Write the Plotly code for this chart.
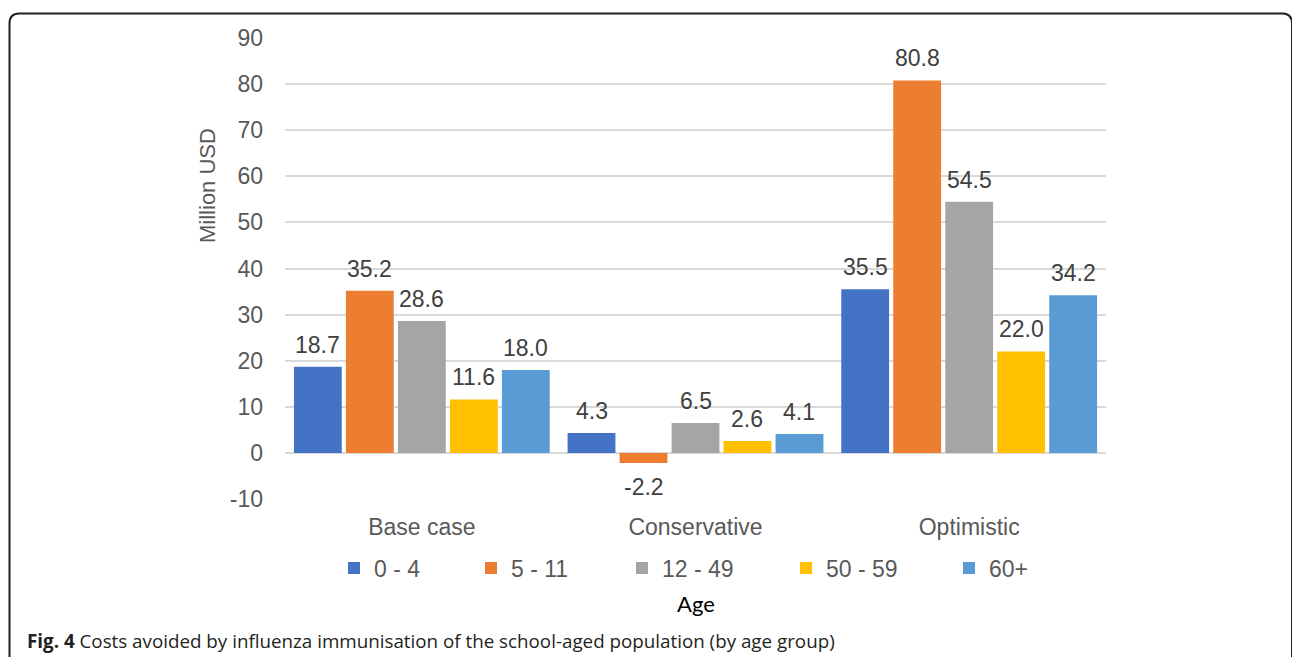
import plotly.graph_objects as go

# Scenario categories and age groups
scenarios = ["Base case", "Conservative", "Optimistic"]
age_groups = ["0 - 4", "5 - 11", "12 - 49", "50 - 59", "60+"]

# Costs avoided (million USD) per age group, one list per group across scenarios
costs_0_4 = [18.7, 4.3, 35.5]
costs_5_11 = [35.2, -2.2, 80.8]
costs_12_49 = [28.6, 6.5, 54.5]
costs_50_59 = [11.6, 2.6, 22.0]
costs_60_plus = [18.0, 4.1, 34.2]

y_ticks = [-10, 0, 10, 20, 30, 40, 50, 60, 70, 80, 90]
y_tick_text = ["-10", "0", "10", "20", "30", "40", "50", "60", "70", "80", "90"]

series = [costs_0_4, costs_5_11, costs_12_49, costs_50_59, costs_60_plus]
colors = ["#4472C4", "#ED7D31", "#A5A5A5", "#FFC000", "#5B9BD5"]

W, H = 1292, 657
ML, MR, MT, MB = 285, 186, 38, 158
PW, PH = W - ML - MR, H - MT - MB
BARGAP, GROUPGAP = 0.05, 0.08


def px_x(p):
    return (p - ML) / PW


def px_y(p):
    return (H - MB - p) / PH


SANS = "Arial, Liberation Sans, sans-serif"

# left edge of each legend swatch
legend_left = [352, 489, 640, 804, 967]

fig = go.Figure()
for i, (name, vals, col) in enumerate(zip(age_groups, series, colors)):
    fig.add_trace(go.Bar(
        name=name, x=scenarios, y=vals,
        marker=dict(color=col, line=dict(width=0)),
        legend="legend" if i == 0 else f"legend{i + 1}",
    ))

# Value labels above (or below) each bar
slot = PW / len(scenarios) * (1 - BARGAP) / len(series)
for i, vals in enumerate(series):
    for cat, v in zip(scenarios, vals):
        fig.add_annotation(
            x=cat, y=v, xref="x", yref="y", text=f"{v:.1f}", showarrow=False,
            xshift=(i - (len(series) - 1) / 2) * slot,
            yshift=22 if v >= 0 else -24,
            xanchor="center", yanchor="middle",
            font=dict(family=SANS, size=23, color="#404040"),
        )

legend_common = dict(
    orientation="h", xanchor="left", yanchor="middle", y=px_y(568),
    font=dict(family=SANS, size=23, color="#595959"),
    bgcolor="rgba(0,0,0,0)",
)
legends = {}
for i, left in enumerate(legend_left):
    key = "legend" if i == 0 else f"legend{i + 1}"
    legends[key] = dict(legend_common, x=px_x(left - 18))

fig.update_layout(
    width=W, height=H,
    margin=dict(l=ML, r=MR, t=MT, b=MB, autoexpand=False),
    paper_bgcolor="white", plot_bgcolor="white",
    barmode="group", bargap=BARGAP, bargroupgap=GROUPGAP,
    font=dict(family=SANS, color="#595959"),
    showlegend=True,
    xaxis=dict(
        showgrid=False, showline=False, ticks="",
        tickfont=dict(family=SANS, size=23, color="#595959"),
        ticklabelstandoff=12,
    ),
    yaxis=dict(
        range=[-10, 90], tickvals=y_ticks, ticktext=y_tick_text,
        showgrid=True, gridcolor="#D9D9D9", gridwidth=1.5,
        zeroline=True, zerolinecolor="#D9D9D9", zerolinewidth=1.5,
        showline=False, ticks="",
        tickfont=dict(family=SANS, size=23, color="#595959"),
        ticklabelstandoff=21,
    ),
    **legends,
)

# Axis titles
fig.add_annotation(
    text="Million USD", xref="paper", yref="paper",
    x=px_x(208), y=px_y(186), textangle=-90, showarrow=False,
    font=dict(family=SANS, size=22, color="#595959"),
    xanchor="center", yanchor="middle",
)
fig.add_annotation(
    text="Age", xref="paper", yref="paper",
    x=px_x(696), y=px_y(603), showarrow=False,
    font=dict(family="Lato, Carlito, sans-serif", size=22, color="#000000"),
    xanchor="center", yanchor="middle",
)

# Figure caption
fig.add_annotation(
    text="<b>Fig. 4</b> Costs avoided by influenza immunisation of the school-aged population (by age group)",
    xref="paper", yref="paper",
    x=px_x(25), y=px_y(641), showarrow=False,
    font=dict(family="Open Sans, Noto Sans, sans-serif", size=18.8, color="#231F20"),
    xanchor="left", yanchor="middle",
)

# Rounded frame around the figure panel
r = 10
path = (
    f"M {px_x(9.5)},{px_y(700)} L {px_x(9.5)},{px_y(13.5 + r)} "
    f"Q {px_x(9.5)},{px_y(13.5)} {px_x(9.5 + r)},{px_y(13.5)} "
    f"L {px_x(1282)},{px_y(13.5)} "
    f"Q {px_x(1292)},{px_y(13.5)} {px_x(1292)},{px_y(13.5 + r)} "
    f"L {px_x(1292)},{px_y(700)}"
)
fig.add_shape(type="path", xref="paper", yref="paper", path=path,
              line=dict(color="#231F20", width=2), layer="above")

fig.write_html("out.html")
